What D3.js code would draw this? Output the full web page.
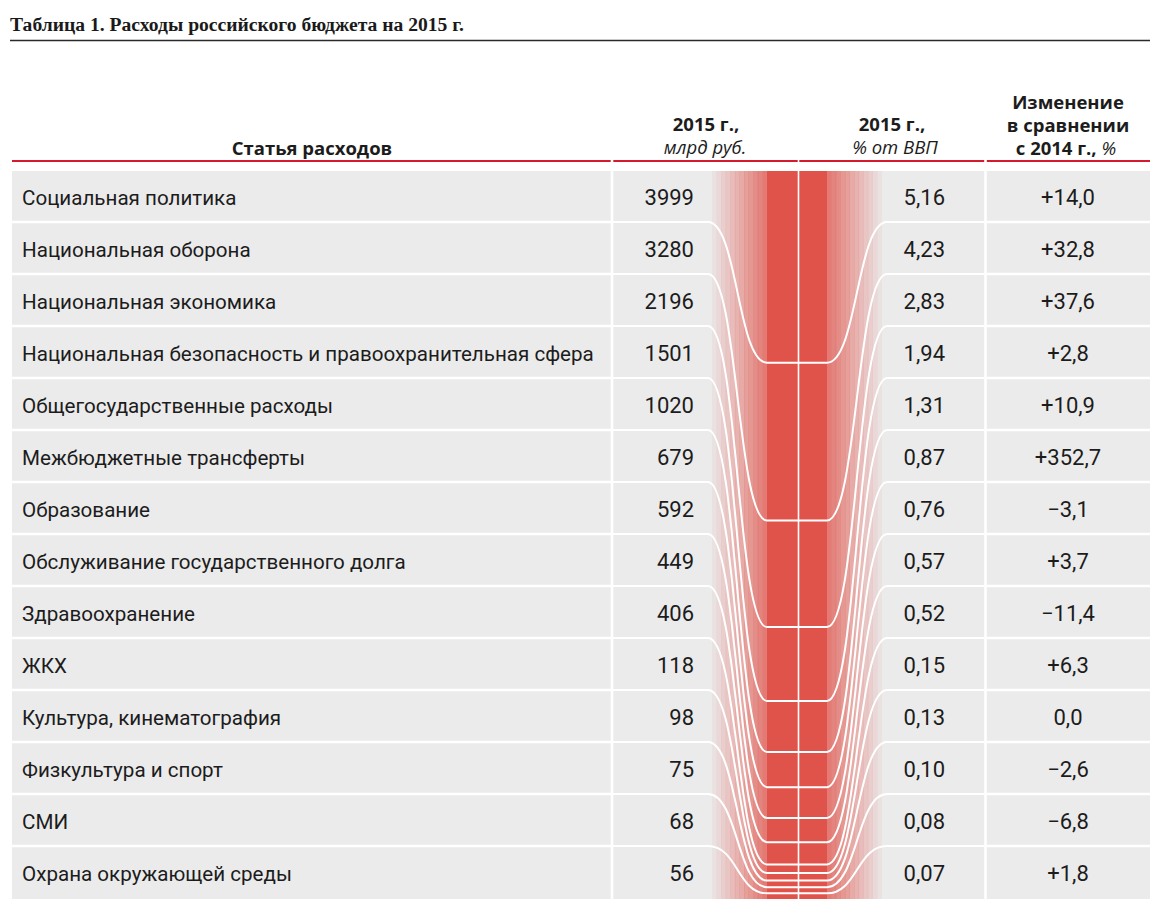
<!DOCTYPE html>
<html>
<head>
<meta charset="utf-8">
<script src="https://cdn.jsdelivr.net/npm/d3@7"></script>
<style>
  html, body { margin: 0; padding: 0; background: #fff; }
  svg { display: block; }
</style>
</head>
<body>
<svg id="chart" width="1162" height="915"></svg>
<script>
// ---------- data ----------
const titleText = "Таблица 1. Расходы российского бюджета на 2015 г.";
const categories = [
  "Социальная политика",
  "Национальная оборона",
  "Национальная экономика",
  "Национальная безопасность и правоохранительная сфера",
  "Общегосударственные расходы",
  "Межбюджетные трансферты",
  "Образование",
  "Обслуживание государственного долга",
  "Здравоохранение",
  "ЖКХ",
  "Культура, кинематография",
  "Физкультура и спорт",
  "СМИ",
  "Охрана окружающей среды"
];
const spendBln = [3999, 3280, 2196, 1501, 1020, 679, 592, 449, 406, 118, 98, 75, 68, 56];
const shareGdp = [5.16, 4.23, 2.83, 1.94, 1.31, 0.87, 0.76, 0.57, 0.52, 0.15, 0.13, 0.10, 0.08, 0.07];
const change2014 = [14.0, 32.8, 37.6, 2.8, 10.9, 352.7, -3.1, 3.7, -11.4, 6.3, 0.0, -2.6, -6.8, 1.8];
const headerCol1 = ["Статья расходов"];
const headerCol2 = ["2015 г.,", "млрд руб."];
const headerCol3 = ["2015 г.,", "% от ВВП"];
const headerCol4 = ["Изменение", "в сравнении", "с 2014 г., "];

// ---------- layout ----------
const svg = d3.select("#chart");
const bodyTop = 171, bodyBottom = 899;
const colX = { c1a: 12, c1b: 612, mid: 798.5, c4a: 985.5, c4b: 1150 };
const redL = 767, redR = 827, gradW = 55, curveL = 708, curveR = 887;
const gap = 3;

const GRAY = "#ebebeb", RED = "#e0534a", TEXT = "#1c1c1c";
const bodyFont = "Roboto, 'Liberation Sans', sans-serif";
const headFont = "'Open Sans', 'Noto Sans', sans-serif";

const yBand = d3.scaleBand().domain(categories).range([bodyTop, bodyBottom]).paddingInner(0);

const total = d3.sum(spendBln);
const cum = d3.cumsum(spendBln);
const yCum = d3.scaleLinear().domain([0, total]).range([bodyTop, bodyBottom - categories.length * gap]);

const fmt1 = d3.format(".1f"), fmt2 = d3.format(".2f");
const comma = s => s.replace(".", ",");
const fmtChange = v => v > 0 ? "+" + comma(fmt1(v)) : (v < 0 ? "\u2212" + comma(fmt1(-v)) : comma(fmt1(0)));

// ---------- title ----------
svg.append("text").attr("x", 10).attr("y", 31)
  .attr("font-family", "'Liberation Serif', 'DejaVu Serif', serif")
  .attr("font-weight", 700).attr("font-size", 19.6).attr("fill", "#1a1a1a")
  .text(titleText);
svg.append("line").attr("x1", 10).attr("x2", 1150).attr("y1", 40.5).attr("y2", 40.5)
  .attr("stroke", "#2a2a2a").attr("stroke-width", 1.3);

// ---------- header ----------
const hdr = svg.append("g").attr("font-family", headFont).attr("fill", TEXT).attr("text-anchor", "middle");
hdr.append("text").attr("x", 312).attr("y", 155).attr("font-weight", 700).attr("font-size", 18.5).text(headerCol1[0]);
hdr.append("text").attr("x", 706).attr("y", 131).attr("font-weight", 700).attr("font-size", 18.5).text(headerCol2[0]);
hdr.append("text").attr("x", 705).attr("y", 154).attr("font-style", "italic").attr("font-size", 18.5).text(headerCol2[1]);
hdr.append("text").attr("x", 892).attr("y", 131).attr("font-weight", 700).attr("font-size", 18.5).text(headerCol3[0]);
hdr.append("text").attr("x", 895).attr("y", 154).attr("font-style", "italic").attr("font-size", 18.5).text(headerCol3[1]);
hdr.append("text").attr("x", 1068).attr("y", 109).attr("font-weight", 700).attr("font-size", 18.5).text(headerCol4[0]);
hdr.append("text").attr("x", 1068).attr("y", 132).attr("font-weight", 700).attr("font-size", 18.5).text(headerCol4[1]);
const h4 = hdr.append("text").attr("x", 1066).attr("y", 155).attr("font-size", 18.5);
h4.append("tspan").attr("font-weight", 700).text(headerCol4[2]);
h4.append("tspan").attr("font-style", "italic").text("%");

svg.append("line").attr("x1", 12).attr("x2", 1150).attr("y1", 161).attr("y2", 161)
  .attr("stroke", "#d51a2e").attr("stroke-width", 2.2);

// ---------- body backgrounds ----------
const bg = svg.append("g");
bg.append("rect").attr("x", colX.c1a).attr("y", bodyTop).attr("width", colX.c4b - colX.c1a)
  .attr("height", bodyBottom - bodyTop).attr("fill", GRAY);

// gradient bands + solid red column
const nSteps = 12;
const steps = d3.range(nSteps);
const opac = d3.scaleLinear().domain([0, nSteps - 1]).range([0.06, 0.74]);
const sw = gradW / nSteps;
const gGrad = svg.append("g");
gGrad.selectAll("rect.gl").data(steps).join("rect").attr("class", "gl")
  .attr("x", d => redL - gradW + d * sw).attr("y", bodyTop).attr("width", sw + 0.3)
  .attr("height", bodyBottom - bodyTop).attr("fill", RED).attr("fill-opacity", d => opac(d));
gGrad.selectAll("rect.gr").data(steps).join("rect").attr("class", "gr")
  .attr("x", d => redR + gradW - (d + 1) * sw - 0.3).attr("y", bodyTop).attr("width", sw + 0.3)
  .attr("height", bodyBottom - bodyTop).attr("fill", RED).attr("fill-opacity", d => opac(d));
gGrad.append("rect").attr("x", redL).attr("y", bodyTop).attr("width", redR - redL)
  .attr("height", bodyBottom - bodyTop).attr("fill", RED);

// ---------- separators ----------
const lines = svg.append("g").attr("stroke", "#fff").attr("fill", "none");
const boundaries = d3.range(1, categories.length);
const sepY = k => yBand(categories[k]) - 1;
const colY = k => yCum(cum[k - 1]) + k * gap;

lines.selectAll("line.s1").data(boundaries).join("line").attr("class", "s1")
  .attr("x1", colX.c1a).attr("x2", colX.c1b).attr("y1", sepY).attr("y2", sepY).attr("stroke-width", 2.6);
lines.selectAll("line.s4").data(boundaries).join("line").attr("class", "s4")
  .attr("x1", colX.c4a).attr("x2", colX.c4b).attr("y1", sepY).attr("y2", sepY).attr("stroke-width", 2.6);

const path = k => {
  const ys = sepY(k), yc = colY(k);
  const dl = (redL - curveL) * 0.5, dr = (curveR - redR) * 0.5;
  const p = d3.path();
  p.moveTo(colX.c1b, ys);
  p.lineTo(curveL, ys);
  p.bezierCurveTo(curveL + dl, ys, redL - dl, yc, redL, yc);
  p.lineTo(redR, yc);
  p.bezierCurveTo(redR + dr, yc, curveR - dr, ys, curveR, ys);
  p.lineTo(colX.c4a, ys);
  return p.toString();
};
lines.selectAll("path.cv").data(boundaries).join("path").attr("class", "cv")
  .attr("d", path).attr("stroke-width", 2);

lines.append("line").attr("x1", colX.c1b).attr("x2", colX.c1b).attr("y1", 158).attr("y2", bodyBottom).attr("stroke-width", 2.6);
lines.append("line").attr("x1", colX.mid).attr("x2", colX.mid).attr("y1", 158).attr("y2", bodyBottom).attr("stroke-width", 1.6);
lines.append("line").attr("x1", colX.c4a).attr("x2", colX.c4a).attr("y1", 158).attr("y2", bodyBottom).attr("stroke-width", 2.6);

// ---------- texts ----------
const txt = svg.append("g").attr("font-family", bodyFont).attr("fill", TEXT).attr("font-size", 20.6);
const base = c => yBand(c) + 34;
txt.selectAll("text.lab").data(categories).join("text").attr("class", "lab")
  .attr("x", 22).attr("y", base).text(d => d);
txt.selectAll("text.v1").data(categories).join("text").attr("class", "v1")
  .attr("x", 694).attr("y", base).attr("text-anchor", "end").attr("font-size", 22)
  .text((d, i) => String(spendBln[i]));
txt.selectAll("text.v2").data(categories).join("text").attr("class", "v2")
  .attr("x", 945).attr("y", base).attr("text-anchor", "end").attr("font-size", 22)
  .text((d, i) => comma(fmt2(shareGdp[i])));
txt.selectAll("text.v3").data(categories).join("text").attr("class", "v3")
  .attr("x", 1068).attr("y", base).attr("text-anchor", "middle").attr("font-size", 22)
  .text((d, i) => fmtChange(change2014[i]));
</script>
</body>
</html>
